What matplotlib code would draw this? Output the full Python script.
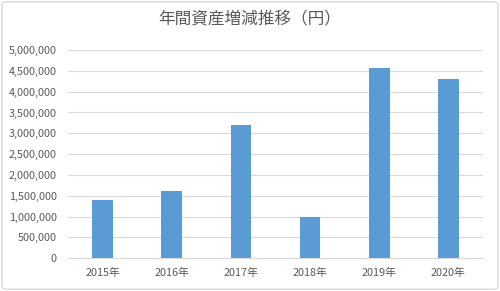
import matplotlib.pyplot as plt
from matplotlib.ticker import FuncFormatter
from matplotlib.patches import FancyBboxPatch

plt.rcParams['font.family'] = ['Noto Sans CJK JP', 'DejaVu Sans']

# 年ごとの資産増減
years = ['2015年', '2016年', '2017年', '2018年', '2019年', '2020年']
values = [1400000, 1620000, 3190000, 980000, 4580000, 4310000]
yticks = [0, 500000, 1000000, 1500000, 2000000, 2500000, 3000000, 3500000, 4000000, 4500000, 5000000]

fig = plt.figure(figsize=(5, 2.91), dpi=100)
ax = fig.add_axes([0.136, 0.113, 0.83, 0.715])

# 外枠
fig.patches.append(FancyBboxPatch((0.004, 0.006), 0.992, 0.988, boxstyle='round,pad=0,rounding_size=0.01',
                                  transform=fig.transFigure, fill=False, edgecolor='#d9d9d9', linewidth=1))

ax.bar(years, values, width=0.30, color='#5b9bd5', zorder=3)
ax.set_ylim(0, 5000000)
ax.set_yticks(yticks)
ax.yaxis.set_major_formatter(FuncFormatter(lambda v, p: f'{int(v):,}'))
ax.grid(axis='y', color='#d9d9d9', linewidth=0.8, zorder=0)
for s in ['top', 'right', 'left']:
    ax.spines[s].set_visible(False)
ax.spines['bottom'].set_color('#d9d9d9')
ax.tick_params(length=0, labelsize=7.8, colors='#595959')
ax.tick_params(axis='y', pad=8)
ax.tick_params(axis='x', pad=7)
ax.set_xlim(-0.5, 5.5)

fig.suptitle('年間資産増減推移（円）', y=0.96, fontsize=12, color='#595959')

fig.savefig('out.png', dpi=100)
